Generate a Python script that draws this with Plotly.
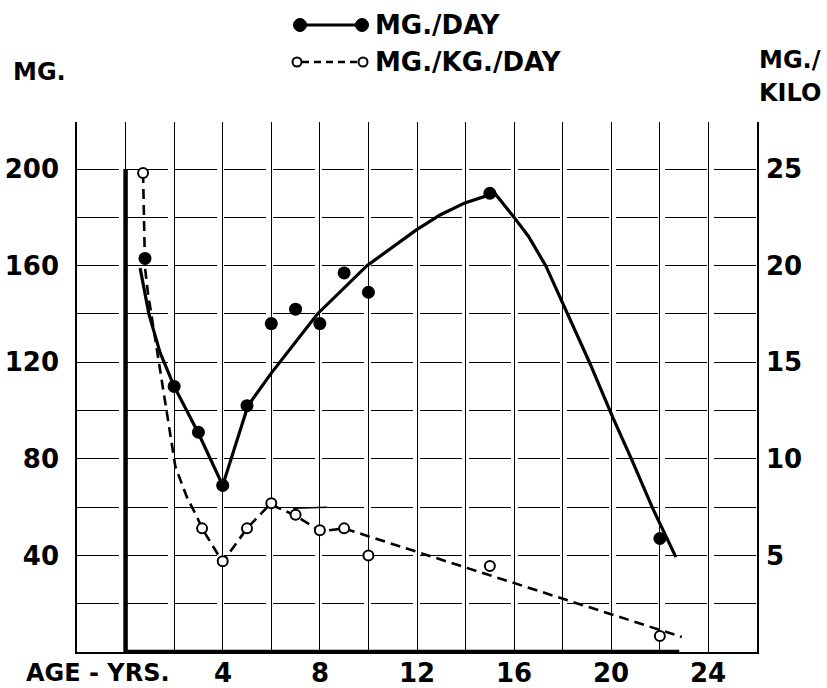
import plotly.graph_objects as go

# ---------------- data ----------------
age_day = [0.8, 2, 3, 4, 5, 6, 7, 8, 9, 10, 15, 22]
mg_day = [163, 110, 91, 69, 102, 136, 142, 136, 157, 149, 190, 47]

curve_day_age = [0.6, 0.96, 1.42, 2.0, 2.98, 4.0, 5.04, 6.0, 7.9, 8.83, 9.94, 11.96,
                 12.95, 13.97, 15.2, 16.0, 16.6, 17.3, 18.2, 19.1, 20.07, 20.85, 21.7, 22.66]
curve_day_mg = [159, 140, 124, 110, 91, 69, 102, 115.5, 140, 149, 160, 174.7,
                181, 186, 190, 180, 172, 160, 140, 120, 97, 79.5, 59.6, 39.3]

age_kg = [0.72, 3.15, 4, 5, 6, 7, 8, 9, 10, 15, 22]
mg_kg_day = [24.8, 6.4, 4.7, 6.4, 7.7, 7.1, 6.3, 6.4, 5.0, 4.45, 0.83]

curve_kg_age = [0.72, 0.80, 0.92, 1.29, 1.62, 1.91, 2.05, 2.53, 2.94, 3.15, 4.0, 5.0,
                5.95, 6.93, 8.04, 8.99, 22.9]
curve_kg_val = [24.8, 19.9, 18.6, 15.6, 13.0, 10.5, 9.6, 8.0, 7.0, 6.4, 4.65, 6.4,
                7.65, 7.1, 6.25, 6.4, 0.78]

stray_age = [6.9, 8.3]
stray_mg = [59.5, 60]

x_ticks = [4, 8, 12, 16, 20, 24]
y_left_ticks = [40, 80, 120, 160, 200]
y_right_ticks = [5, 10, 15, 20, 25]

# ---------------- layout helpers ----------------
W, H = 827, 688
L, R, T, B = 77, 70, 122, 36
PW, PH = W - L - R, H - T - B


def X(px):
    return (px - L) / PW


def Y(py):
    return (H - B - py) / PH


FONT = "DejaVu Sans"
tickfont = dict(family=FONT, size=26, color="black", weight=700)

fig = go.Figure()

fig.add_trace(go.Scatter(x=curve_day_age, y=curve_day_mg, mode="lines",
                         line=dict(color="black", width=3.2), hoverinfo="skip",
                         showlegend=False))
fig.add_trace(go.Scatter(x=stray_age, y=stray_mg, mode="lines",
                         line=dict(color="black", width=1.5), hoverinfo="skip",
                         showlegend=False))
fig.add_trace(go.Scatter(x=curve_kg_age, y=curve_kg_val, mode="lines", yaxis="y2",
                         line=dict(color="black", width=2.6, dash="10px,6px"),
                         hoverinfo="skip", showlegend=False))
fig.add_trace(go.Scatter(x=age_day, y=mg_day, mode="markers",
                         marker=dict(size=13, color="black", line=dict(width=0)),
                         name="MG./DAY", showlegend=False))
fig.add_trace(go.Scatter(x=age_kg, y=mg_kg_day, mode="markers", yaxis="y2",
                         marker=dict(size=10, color="white",
                                     line=dict(color="black", width=2)),
                         name="MG./KG./DAY", showlegend=False))

shapes = [
    # heavy axes
    dict(type="line", xref="x", yref="y", x0=0, x1=0, y0=0, y1=200,
         line=dict(color="black", width=4.5)),
    dict(type="line", xref="x", yref="y", x0=0, x1=22.8, y0=0, y1=0,
         line=dict(color="black", width=4.5)),
    # legend symbols
    dict(type="line", xref="paper", yref="paper", x0=X(300), x1=X(362), y0=Y(25), y1=Y(25),
         line=dict(color="black", width=3)),
    dict(type="line", xref="paper", yref="paper", x0=X(302), x1=X(358), y0=Y(62), y1=Y(62),
         line=dict(color="black", width=2.5, dash="7px,5px")),
]
for cx in (300, 362):
    shapes.append(dict(type="circle", xref="paper", yref="paper", xsizemode="pixel",
                       ysizemode="pixel", xanchor=X(cx), yanchor=Y(25),
                       x0=-6.5, x1=6.5, y0=-6.5, y1=6.5, fillcolor="black",
                       line=dict(color="black", width=1)))
for cx in (297, 363):
    shapes.append(dict(type="circle", xref="paper", yref="paper", xsizemode="pixel",
                       ysizemode="pixel", xanchor=X(cx), yanchor=Y(62),
                       x0=-4.5, x1=4.5, y0=-4.5, y1=4.5, fillcolor="white",
                       line=dict(color="black", width=2)))

ann_font = dict(family=FONT, size=26, color="black")
annotations = [
    dict(text="<b>MG./DAY</b>", x=X(373), y=Y(25), xanchor="left", yanchor="middle"),
    dict(text="<b>MG./KG./DAY</b>", x=X(373), y=Y(62), xanchor="left", yanchor="middle"),
    dict(text="<b>MG.</b>", x=X(39), y=Y(72), xanchor="center", yanchor="middle",
         font=dict(family=FONT, size=24, color="black")),
    dict(text="<b>MG./</b>", x=X(823), y=Y(60), xanchor="right", yanchor="middle",
         font=dict(family=FONT, size=24, color="black")),
    dict(text="<b>KILO</b>", x=X(823), y=Y(93), xanchor="right", yanchor="middle",
         font=dict(family=FONT, size=24, color="black")),
    dict(text="<b>AGE - YRS.</b>", x=X(98), y=Y(673), xanchor="center", yanchor="middle",
         font=dict(family=FONT, size=24, color="black")),
]
# x tick labels placed as annotations anchored on the age axis
for v in x_ticks:
    annotations.append(dict(text=f"<b>{v}</b>", x=v, xref="x", y=Y(673), yref="paper",
                            xanchor="center", yanchor="middle", showarrow=False,
                            font=dict(family=FONT, size=26, color="black")))
for a in annotations:
    a.setdefault("xref", "paper")
    a.setdefault("yref", "paper")
    a["showarrow"] = False
    a.setdefault("font", ann_font)

grid_w = 1.3
fig.update_layout(
    width=W, height=H,
    margin=dict(l=L, r=R, t=T, b=B, pad=0, autoexpand=False),
    paper_bgcolor="white", plot_bgcolor="white",
    showlegend=False,
    shapes=shapes,
    annotations=annotations,
    xaxis=dict(range=[-2, 26], tickvals=x_ticks, showticklabels=False,
               showgrid=True, gridcolor="black", gridwidth=grid_w,
               minor=dict(tick0=0, dtick=2, showgrid=True, gridcolor="black",
                          gridwidth=grid_w),
               showline=True, linecolor="black", linewidth=1.5, automargin=False,
               ticks="", zeroline=False),
    yaxis=dict(range=[0, 219.5], tickvals=y_left_ticks,
               ticktext=[str(v) for v in y_left_ticks],
               showgrid=True, gridcolor="black", gridwidth=grid_w, griddash="42px,7px",
               minor=dict(tick0=0, dtick=20, showgrid=True, gridcolor="black",
                          gridwidth=grid_w, griddash="42px,7px"),
               showline=True, linecolor="black", linewidth=1.5, automargin=False,
               ticks="", zeroline=False, tickfont=tickfont, ticklabelstandoff=11),
    yaxis2=dict(range=[0, 219.5 / 8], overlaying="y", side="right",
                tickvals=y_right_ticks, ticktext=[str(v) for v in y_right_ticks],
                showgrid=False, showline=True, linecolor="black", linewidth=1.5,
                automargin=False,
                ticks="", zeroline=False, tickfont=tickfont, ticklabelstandoff=2),
)

fig.write_html("out.html")
